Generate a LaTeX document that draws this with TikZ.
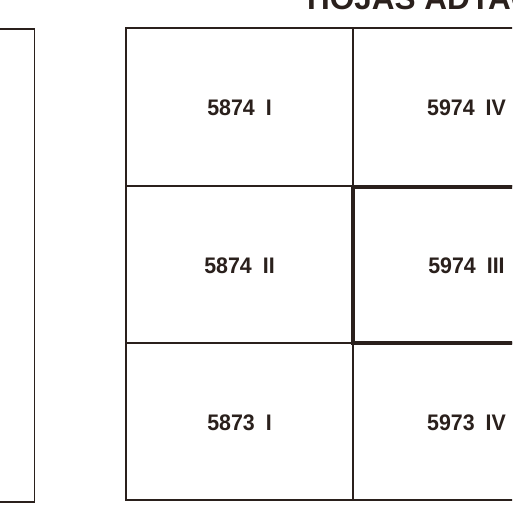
\documentclass[tikz,border=0pt]{standalone}
\usepackage{fontspec}
\setmainfont{Liberation Sans}[FakeStretch=0.95]
\newfontfamily\titlefont{Liberation Sans}[FakeStretch=1.0]
\definecolor{ink}{HTML}{2A201C}
\tikzset{
  gridline/.style={draw=ink, line width=1.7pt},
  heavyline/.style={draw=ink, line width=3.2pt},
  sheet/.style={text=ink, font=\fontsize{22.5}{24}\selectfont\bfseries, inner sep=0pt},
}
\begin{document}
\begin{tikzpicture}[x=1pt,y=-1pt]
\useasboundingbox (0,0) rectangle (512,528);
\clip (0,0) rectangle (512,528);
\fill[white] (0,0) rectangle (512,528);
% title (cut off at top)
\node[anchor=base west, inner sep=0pt, text=ink, font=\titlefont\fontsize{31.5}{33}\selectfont\bfseries] (title) at (307,9) {HOJAS ADYACENTES};
% left neighbouring frame
\draw[gridline] (-20,29) -- (34.5,29) -- (34.5,502) -- (-20,502);
% grid
\draw[gridline] (126,28) rectangle (600,500);
\draw[gridline] (353,28) -- (353,500);
\draw[gridline] (126,186) -- (600,186);
\draw[gridline] (126,343) -- (600,343);
\draw[heavyline] (353,187) rectangle (620,343);
% sheet labels
\node[sheet] (a) at (239.5,108) {5874\hspace{11pt}I};
\node[sheet] (b) at (466.5,108) {5974\hspace{11pt}IV};
\node[sheet] (c) at (239.5,266) {5874\hspace{11pt}II};
\node[sheet] (d) at (466.5,266) {5974\hspace{11pt}III};
\node[sheet] (e) at (239.5,423) {5873\hspace{11pt}I};
\node[sheet] (f) at (466.5,423) {5973\hspace{11pt}IV};
\end{tikzpicture}
\end{document}
